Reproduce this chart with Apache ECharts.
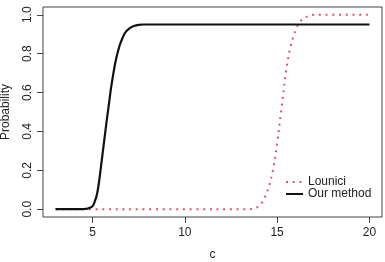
<!DOCTYPE html>
<html>
<head>
<meta charset="utf-8">
<script src="https://cdn.jsdelivr.net/npm/echarts@6/dist/echarts.min.js"></script>
<style>
html,body{margin:0;padding:0;background:#fff;}
#chart{width:385px;height:262px;}
</style>
</head>
<body>
<div id="chart"></div>
<script>
// ---- data ----
const seriesNames = ['Lounici', 'Our method'];

const lounX = [3, 13.5, 13.75, 14, 14.25, 14.5, 14.75, 15, 15.25, 15.5, 15.75, 16, 16.25, 16.5, 16.75, 17, 20];
const lounY = [0, 0, 0.003, 0.015, 0.045, 0.1, 0.19, 0.34, 0.53, 0.72, 0.845, 0.92, 0.965, 0.985, 0.995, 1.0, 1.0];

const oursX = [3, 4, 4.5, 4.75, 5, 5.125, 5.25, 5.375, 5.5, 5.625, 5.75, 5.875, 6, 6.125, 6.25, 6.375, 6.5, 6.75, 7, 7.25, 7.5, 7.75, 8, 20];
const oursY = [0, 0, 0.001, 0.004, 0.015, 0.04, 0.08, 0.155, 0.25, 0.345, 0.44, 0.53, 0.62, 0.695, 0.76, 0.81, 0.85, 0.905, 0.93, 0.942, 0.948, 0.95, 0.95, 0.95];

const xTicks = [5, 10, 15, 20];
const yTicks = [0, 0.2, 0.4, 0.6, 0.8, 1.0];
const yTickLabels = ['0.0', '0.2', '0.4', '0.6', '0.8', '1.0'];

const xName = 'c';
const yName = 'Probability';

// ---- chart ----
const FONT = "'Liberation Sans', Arial, sans-serif";
const TXT = '#222';
const AX = '#444';

function pairs(xs, ys) { return xs.map((x, i) => [x, ys[i]]); }

const chart = echarts.init(document.getElementById('chart'), null, {renderer: 'canvas'});
chart.setOption({
  animation: false,
  backgroundColor: '#fff',
  textStyle: {fontFamily: FONT},
  grid: {left: 43, right: 3, top: 7, bottom: 45, containLabel: false, outerBoundsMode: 'none',
    show: true, borderColor: AX, borderWidth: 1, backgroundColor: 'transparent'},
  xAxis: {
    type: 'value', min: 2.32, max: 20.68,
    name: xName, nameLocation: 'middle', nameGap: 32,
    nameTextStyle: {fontSize: 12, color: TXT, fontFamily: FONT},
    axisLine: {show: false, onZero: false},
    axisTick: {show: true, length: 6, lineStyle: {color: AX}, customValues: xTicks},
    axisLabel: {fontSize: 12, color: TXT, fontFamily: FONT, margin: 10, customValues: xTicks},
    splitLine: {show: false}
  },
  yAxis: {
    type: 'value', min: -0.04, max: 1.04,
    name: yName, nameLocation: 'middle', nameGap: 31,
    nameTextStyle: {fontSize: 12, color: TXT, fontFamily: FONT},
    axisLine: {show: false, onZero: false},
    axisTick: {show: true, length: 6, lineStyle: {color: AX}, customValues: yTicks},
    axisLabel: {fontSize: 12, color: TXT, fontFamily: FONT, rotate: 90, margin: 9.5, customValues: yTicks,
      formatter: function (v) { const i = yTicks.findIndex(t => Math.abs(t - v) < 1e-9); return i >= 0 ? yTickLabels[i] : ''; }},
    splitLine: {show: false}
  },
  legend: {
    orient: 'vertical', left: 285, top: 176, padding: 0, itemGap: 0,
    itemWidth: 17, itemHeight: 11,
    itemStyle: {opacity: 0},
    textStyle: {fontSize: 12, color: TXT, fontFamily: FONT, lineHeight: 11},
    data: seriesNames
  },
  series: [
    {
      name: seriesNames[0], type: 'line', data: pairs(lounX, lounY),
      symbol: 'none', smooth: 0.35,
      lineStyle: {color: '#DF536B', width: 2, type: [2, 4.7], cap: 'butt'},
      itemStyle: {color: '#DF536B'}, z: 2
    },
    {
      name: seriesNames[1], type: 'line', data: pairs(oursX, oursY),
      symbol: 'none', smooth: 0.35,
      lineStyle: {color: '#111', width: 2.2},
      itemStyle: {color: '#111'}, z: 3
    }
  ]
});
</script>
</body>
</html>
